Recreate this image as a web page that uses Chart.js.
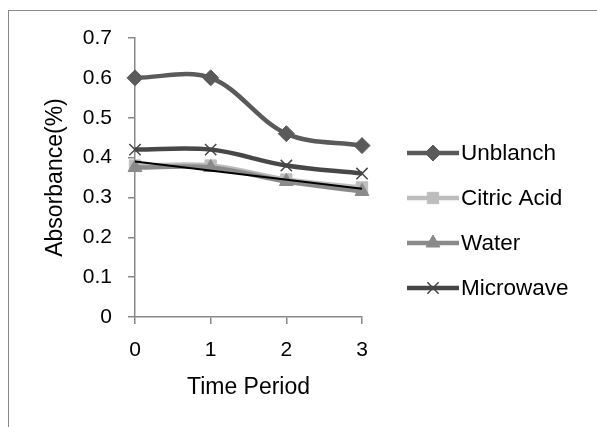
<!DOCTYPE html>
<html>
<head>
<meta charset="utf-8">
<script src="https://cdn.jsdelivr.net/npm/chart.js@4/dist/chart.umd.min.js"></script>
<style>
  body { margin: 0; background: #fff; }
  canvas { display: block; }
</style>
</head>
<body>
<canvas id="absChart" width="597" height="427"></canvas>
<script>
// Absorbance over time, four blanching treatments

const timePeriods = ['0', '1', '2', '3'];
const unblanch = [0.6, 0.6, 0.46, 0.43];
const citricAcid = [0.38, 0.38, 0.345, 0.325];
const water = [0.375, 0.375, 0.34, 0.315];
const microwave = [0.42, 0.42, 0.38, 0.36];
// straight trend line, only its two ends are given
const trend = [0.39, null, null, 0.322];
const yTicks = [0, 0.1, 0.2, 0.3, 0.4, 0.5, 0.6, 0.7];

const FONT = "'Liberation Sans', Arial, sans-serif";
const AXIS = '#888888';

function series(label, data, color, style, order) {
  return {
    label: label,
    data: data,
    borderColor: color,
    backgroundColor: color,
    borderWidth: 4.5,
    pointStyle: style,
    pointRadius: 8,
    pointBorderWidth: style === 'crossRot' ? 1.5 : 1,
    pointBorderColor: color,
    pointBackgroundColor: color,
    tension: 0.35,
    order: order
  };
}

// Frame round the whole picture (only top and left edges show)
const framePlugin = {
  id: 'frame',
  beforeDraw(chart) {
    const ctx = chart.ctx;
    ctx.save();
    ctx.strokeStyle = AXIS;
    ctx.lineWidth = 1;
    ctx.strokeRect(8.5, 10.5, 620, 440);
    ctx.restore();
  }
};

// Legend with line + marker samples like the spreadsheet one
const legendPlugin = {
  id: 'lineLegend',
  afterDraw(chart) {
    const ctx = chart.ctx;
    ctx.save();
    chart.data.datasets.slice(0, 4).forEach((ds, i) => {
      const y = 153 + i * 45;
      ctx.strokeStyle = ds.borderColor;
      ctx.lineWidth = 4.5;
      ctx.beginPath();
      ctx.moveTo(407, y);
      ctx.lineTo(459, y);
      ctx.stroke();
      ctx.fillStyle = ds.pointBackgroundColor;
      ctx.strokeStyle = ds.pointBorderColor;
      ctx.lineWidth = ds.pointBorderWidth;
      Chart.helpers.drawPoint(ctx, { pointStyle: ds.pointStyle, radius: 8, rotation: 0, borderWidth: ds.pointBorderWidth }, 433, y);
      ctx.fillStyle = '#000';
      ctx.font = '22.5px ' + FONT;
      ctx.textAlign = 'left';
      ctx.textBaseline = 'middle';
      ctx.fillText(ds.label, 461, y + 1);
    });
    ctx.restore();
  }
};

new Chart(document.getElementById('absChart'), {
  type: 'line',
  data: {
    labels: timePeriods,
    datasets: [
      series('Unblanch', unblanch, '#5a5a5a', 'rectRot', 4),
      series('Citric Acid', citricAcid, '#bdbdbd', 'rect', 3),
      series('Water', water, '#8a8a8a', 'triangle', 2),
      series('Microwave', microwave, '#474747', 'crossRot', 1),
      {
        label: 'Trend',
        data: trend,
        borderColor: '#000',
        borderWidth: 2,
        pointRadius: 0,
        spanGaps: true,
        tension: 0,
        order: 0
      }
    ]
  },
  options: {
    responsive: false,
    animation: false,
    layout: { padding: { left: 0, right: 235, top: 38, bottom: 0 } },
    plugins: {
      legend: { display: false },
      tooltip: { enabled: false }
    },
    scales: {
      x: {
        offset: false,
        afterFit: s => { s.height = 110; },
        grid: { drawOnChartArea: false, offset: false, color: AXIS, tickLength: 7, lineWidth: 1.5 },
        border: { color: AXIS, width: 1.5 },
        ticks: { color: '#000', font: { family: FONT, size: 21 }, padding: 14, maxRotation: 0 },
        title: { display: true, text: 'Time Period', color: '#000', font: { family: FONT, size: 23 }, padding: { top: 0, bottom: 26 } }
      },
      y: {
        min: 0,
        max: 0.7,
        afterFit: s => { s.width = 135; },
        afterBuildTicks: s => { s.ticks = yTicks.map(v => ({ value: v })); },
        grid: { drawOnChartArea: false, color: AXIS, tickLength: 7, lineWidth: 1.5 },
        border: { color: AXIS, width: 1.5 },
        ticks: { color: '#000', font: { family: FONT, size: 21 }, padding: 16, callback: v => String(v) },
        title: { display: true, text: 'Absorbance(%)', color: '#000', font: { family: FONT, size: 23 }, padding: { top: 42, bottom: 0 } }
      }
    }
  },
  plugins: [framePlugin, legendPlugin]
});
</script>
</body>
</html>
